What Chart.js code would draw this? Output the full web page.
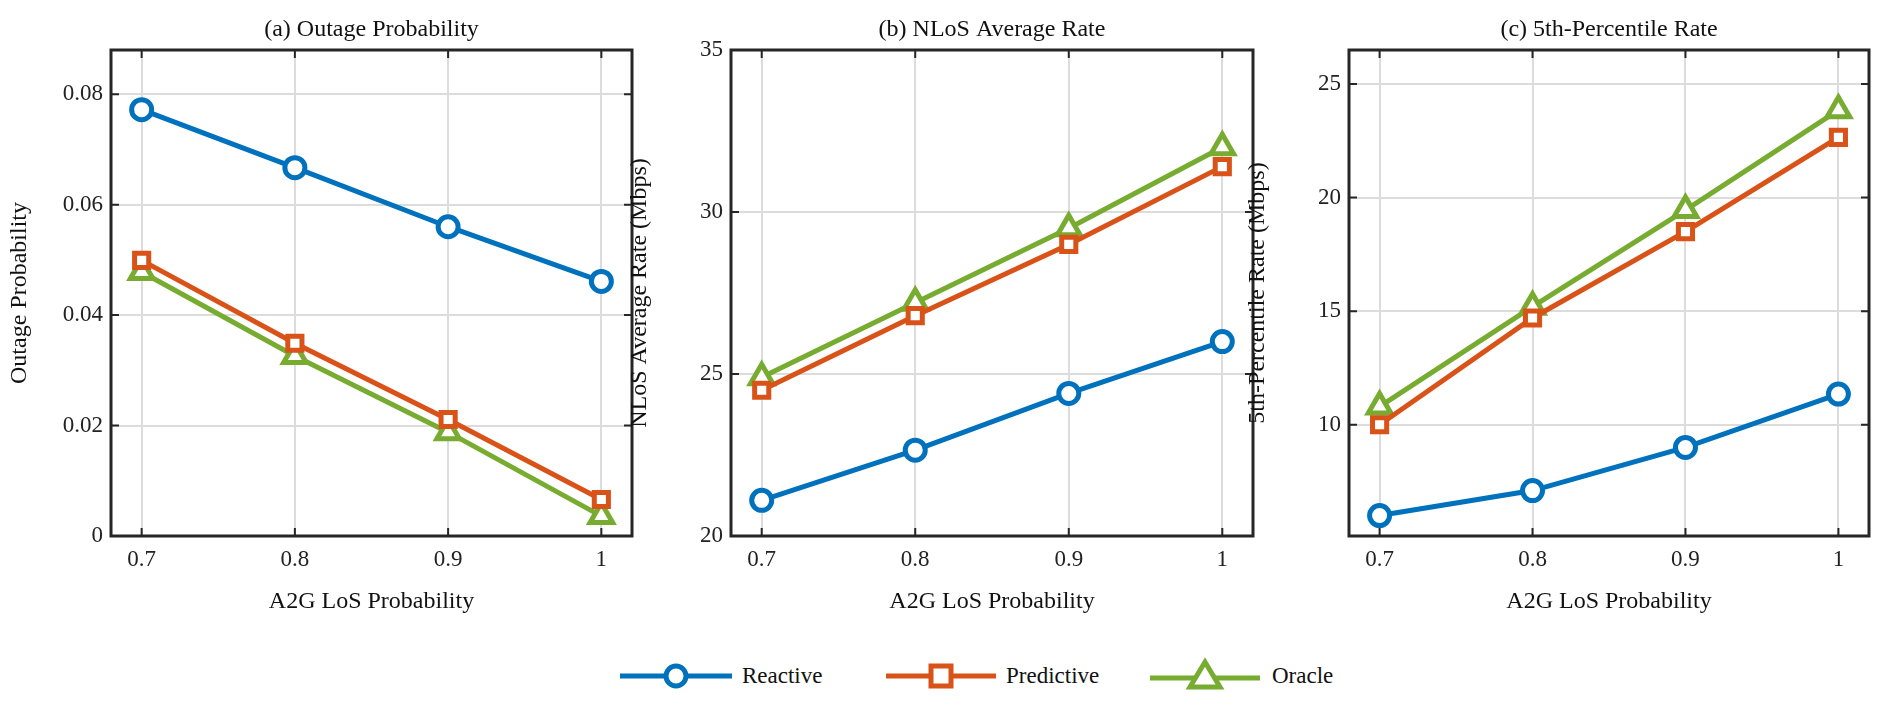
<!DOCTYPE html>
<html><head><meta charset="utf-8">
<script src="https://cdn.jsdelivr.net/npm/chart.js@4"></script>
<style>
body{margin:0;width:1887px;height:707px;background:#fff;position:relative;overflow:hidden;font-family:"Liberation Serif",serif}
.c{position:absolute;top:0;height:620px}
#legend{position:absolute;top:656px;left:0;width:1887px;height:40px}
.li{position:absolute;top:0;display:flex;align-items:center;font-size:23px;color:#111}
</style></head><body>
<div class="c" style="left:1px;width:649px"><canvas id="a"></canvas></div>
<div class="c" style="left:621px;width:650px"><canvas id="b"></canvas></div>
<div class="c" style="left:1239px;width:648px"><canvas id="c"></canvas></div>
<div id="legend">
 <div class="li" style="left:620px"><svg width="116" height="40"><line x1="0" y1="20" x2="112" y2="20" stroke="#0072BD" stroke-width="5"/><circle cx="56" cy="20" r="10" fill="#fff" stroke="#0072BD" stroke-width="5"/></svg><span style="margin-left:6px">Reactive</span></div>
 <div class="li" style="left:886px"><svg width="116" height="40"><line x1="0" y1="20" x2="110" y2="20" stroke="#D95319" stroke-width="5"/><rect x="45" y="10" width="20" height="20" fill="#fff" stroke="#D95319" stroke-width="5"/></svg><span style="margin-left:4px">Predictive</span></div>
 <div class="li" style="left:1150px"><svg width="116" height="40"><line x1="0" y1="22" x2="110" y2="22" stroke="#77AC30" stroke-width="5"/><polygon points="55,6 70,31 40,31" fill="#fff" stroke="#77AC30" stroke-width="5"/></svg><span style="margin-left:6px">Oracle</span></div>
</div>
<script>
const xValues=[0.7,0.8,0.9,1.0];
const outReactive=[0.0772,0.0667,0.0560,0.0461];
const outPredictive=[0.0499,0.0349,0.0211,0.0066];
const outOracle=[0.0478,0.0326,0.0188,0.0036];
const nlosReactive=[21.1,22.65,24.4,26.0];
const nlosPredictive=[24.5,26.8,29.0,31.4];
const nlosOracle=[24.9,27.2,29.5,32.0];
const p5Reactive=[6.0,7.1,9.0,11.35];
const p5Predictive=[10.0,14.7,18.5,22.65];
const p5Oracle=[10.8,15.2,19.45,23.85];
const xTicks=[0.7,0.8,0.9,1];
const outTicks=[0,0.02,0.04,0.06,0.08];
const nlosTicks=[20,25,30,35];
const p5Ticks=[10,15,20,25];

const FONT="'Liberation Serif', serif";
const boxPlugin={id:'box',afterDraw(ch,a,o){const c=ch.ctx,r=ch.chartArea;c.save();c.strokeStyle='#262626';c.lineWidth=3;c.strokeRect(r.left,r.top,r.right-r.left,r.bottom-r.top);
 c.lineWidth=2;ch.scales.y.ticks.forEach(t=>{const y=ch.scales.y.getPixelForValue(t.value);c.beginPath();c.moveTo(r.left,y);c.lineTo(r.left+8,y);c.moveTo(r.right,y);c.lineTo(r.right-8,y);c.stroke();});
 ch.scales.x.ticks.forEach(t=>{const x=ch.scales.x.getPixelForValue(t.value);c.beginPath();c.moveTo(x,r.bottom);c.lineTo(x,r.bottom-8);c.moveTo(x,r.top);c.lineTo(x,r.top+8);c.stroke();});
 c.fillStyle='#111';c.font="24px "+FONT;c.textAlign='center';c.textBaseline='bottom';c.fillText(o.title,(r.left+r.right)/2,r.top-8);c.restore();}};
function ds(label,data,color,style){return{label,data:xValues.map((x,i)=>({x,y:data[i]})),borderColor:color,backgroundColor:'#fff',borderWidth:5,pointStyle:style,pointRadius:style==='triangle'?13:10,pointBorderWidth:5,pointBackgroundColor:'#fff',pointHoverRadius:10};}
function make(id,title,ylabel,min,max,ticks,r,p,o,fmt){
 new Chart(document.getElementById(id),{type:'line',
 data:{datasets:[ds('Reactive',r,'#0072BD','circle'),ds('Predictive',p,'#D95319','rect'),ds('Oracle',o,'#77AC30','triangle')]},
 options:{responsive:true,maintainAspectRatio:false,animation:false,clip:false,layout:{padding:{top:50,right:14}},
 plugins:{legend:{display:false},tooltip:{enabled:false},box:{title}},
 scales:{x:{type:'linear',min:0.68,max:1.02,afterBuildTicks(s){s.ticks=xTicks.map(v=>({value:v}));},afterFit(s){s.height=84;},
   grid:{color:'#dcdcdc',lineWidth:2,drawTicks:false},border:{display:false},
   ticks:{padding:10,color:'#222',font:{family:FONT,size:23},callback:v=>String(v)},
   title:{display:true,text:'A2G LoS Probability',color:'#111',font:{family:FONT,size:24},padding:{top:2}}},
  y:{min,max,afterBuildTicks(s){s.ticks=ticks.map(v=>({value:v}));},afterFit(s){s.width=110;},
   grid:{color:'#dcdcdc',lineWidth:2,drawTicks:false},border:{display:false},
   ticks:{padding:8,color:'#222',font:{family:FONT,size:23},callback:fmt},
   title:{display:true,text:ylabel,color:'#111',font:{family:FONT,size:24},padding:{bottom:4}}}}},
 plugins:[boxPlugin]});}
make('a','(a) Outage Probability','Outage Probability',0,0.088,outTicks,outReactive,outPredictive,outOracle,v=>v===0?'0':String(+v.toFixed(2)));
make('b','(b) NLoS Average Rate','NLoS Average Rate (Mbps)',20,35,nlosTicks,nlosReactive,nlosPredictive,nlosOracle,v=>String(v));
make('c','(c) 5th-Percentile Rate','5th-Percentile Rate (Mbps)',5.1,26.5,p5Ticks,p5Reactive,p5Predictive,p5Oracle,v=>String(v));
</script></body></html>
